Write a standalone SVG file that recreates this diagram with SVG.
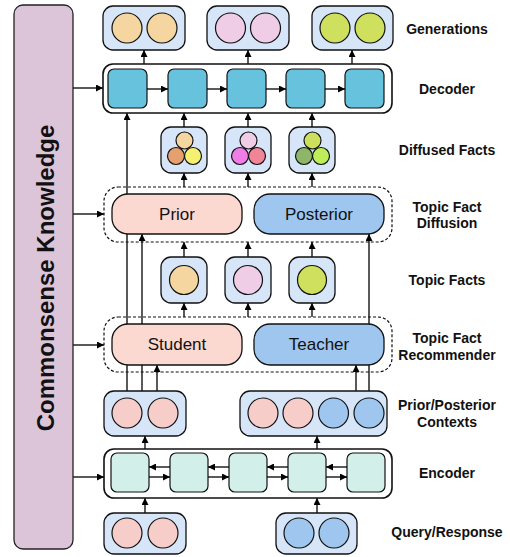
<svg xmlns="http://www.w3.org/2000/svg" width="510" height="557" viewBox="0 0 510 557">
  <defs>
    <marker id="arrow" viewBox="0 0 10 10" refX="10" refY="5" markerWidth="7" markerHeight="7" markerUnits="userSpaceOnUse" orient="auto">
      <path d="M0,0 L10,5 L0,10 z" fill="#000"/>
    </marker>
    <style>
      .label { font-family: "Liberation Sans", Arial, sans-serif; font-weight: bold; font-size: 14px; fill: #111; text-anchor: middle; }
      .inner { font-family: "Liberation Sans", Arial, sans-serif; font-size: 17px; fill: #111; text-anchor: middle; }
      .tok { fill: #d6e6f8; stroke: #111; stroke-width: 1.3; }
      .layer { fill: #fff; stroke: #111; stroke-width: 1.6; }
      .group { fill: none; stroke: #111; stroke-width: 1.2; stroke-dasharray: 3 2; }
      .pill { stroke: #111; stroke-width: 1.3; }
      .c { stroke: #111; stroke-width: 1.2; }
      .dec { fill: #67c3dd; stroke: #111; stroke-width: 1.2; }
      .enc { fill: #d3efea; stroke: #111; stroke-width: 1.2; }
      .edge { fill: none; stroke: #000; stroke-width: 1.3; marker-end: url(#arrow); }
      .orange { fill: #f5d5a0; }
      .pink { fill: #f0cde6; }
      .lime { fill: #cfe05e; }
      .salmon { fill: #f7cdca; }
      .blue { fill: #9fc6ee; }
    </style>
  </defs>

  <!-- connectors (drawn first so the long context lines pass behind the pills) -->
  <g id="connectors">
    <!-- knowledge injection -->
    <line class="edge" x1="73" y1="88" x2="103" y2="88"/>
    <line class="edge" x1="73" y1="214" x2="104" y2="214"/>
    <line class="edge" x1="73" y1="345" x2="104" y2="345"/>
    <line class="edge" x1="73" y1="477" x2="104" y2="477"/>
    <!-- decoder to generations -->
    <line class="edge" x1="144" y1="64" x2="144" y2="50"/>
    <line class="edge" x1="248" y1="64" x2="248" y2="50"/>
    <line class="edge" x1="352" y1="64" x2="352" y2="50"/>
    <!-- diffused facts to decoder -->
    <line class="edge" x1="184" y1="127" x2="184" y2="113"/>
    <line class="edge" x1="248" y1="127" x2="248" y2="113"/>
    <line class="edge" x1="312" y1="127" x2="312" y2="113"/>
    <!-- diffusion to diffused facts -->
    <line class="edge" x1="184" y1="187" x2="184" y2="173"/>
    <line class="edge" x1="248" y1="187" x2="248" y2="173"/>
    <line class="edge" x1="312" y1="187" x2="312" y2="173"/>
    <!-- topic facts to diffusion -->
    <line class="edge" x1="184" y1="257" x2="184" y2="242"/>
    <line class="edge" x1="248" y1="257" x2="248" y2="242"/>
    <line class="edge" x1="312" y1="257" x2="312" y2="242"/>
    <!-- recommender to topic facts -->
    <line class="edge" x1="184" y1="317" x2="184" y2="303"/>
    <line class="edge" x1="248" y1="317" x2="248" y2="303"/>
    <line class="edge" x1="312" y1="317" x2="312" y2="303"/>
    <!-- contexts upward -->
    <line class="edge" x1="127" y1="391" x2="127" y2="113"/>
    <line class="edge" x1="142" y1="391" x2="142" y2="234"/>
    <line class="edge" x1="157" y1="391" x2="157" y2="365"/>
    <line class="edge" x1="356" y1="391" x2="356" y2="365"/>
    <line class="edge" x1="369" y1="391" x2="369" y2="234"/>
    <!-- encoder to contexts -->
    <line class="edge" x1="145" y1="449" x2="145" y2="436"/>
    <line class="edge" x1="317" y1="449" x2="317" y2="436"/>
    <!-- query / response to encoder -->
    <line class="edge" x1="145" y1="513" x2="145" y2="498"/>
    <line class="edge" x1="317" y1="513" x2="317" y2="498"/>
  </g>

  <!-- knowledge column -->
  <g id="knowledge">
    <rect x="14" y="5" width="59" height="544" rx="9" fill="#dcc5d9" stroke="#222" stroke-width="1.3"/>
    <text transform="translate(54,278) rotate(-90)" font-family="Liberation Sans, Arial, sans-serif" font-weight="bold" font-size="24" text-anchor="middle" fill="#111">Commonsense Knowledge</text>
  </g>

  <!-- generated outputs -->
  <g id="generations">
    <rect class="tok" x="103" y="6" width="82" height="44" rx="10"/>
    <circle class="c orange" cx="127" cy="28" r="15"/>
    <circle class="c orange" cx="162" cy="28" r="15"/>
    <rect class="tok" x="207" y="6" width="82" height="44" rx="10"/>
    <circle class="c pink" cx="230.5" cy="28" r="15"/>
    <circle class="c pink" cx="265.5" cy="28" r="15"/>
    <rect class="tok" x="312" y="6" width="81" height="44" rx="10"/>
    <circle class="c lime" cx="335" cy="28" r="15"/>
    <circle class="c lime" cx="370" cy="28" r="15"/>
  </g>

  <!-- decoder -->
  <g id="decoder">
    <rect class="layer" x="103" y="64" width="289" height="49" rx="10"/>
    <rect class="dec" x="108" y="69" width="39" height="39" rx="6"/>
    <rect class="dec" x="168" y="69" width="39" height="39" rx="6"/>
    <rect class="dec" x="227" y="69" width="39" height="39" rx="6"/>
    <rect class="dec" x="286" y="69" width="39" height="39" rx="6"/>
    <rect class="dec" x="345" y="69" width="39" height="39" rx="6"/>
    <line class="edge" x1="147" y1="89" x2="168" y2="89"/>
    <line class="edge" x1="207" y1="89" x2="227" y2="89"/>
    <line class="edge" x1="266" y1="89" x2="286" y2="89"/>
    <line class="edge" x1="325" y1="89" x2="345" y2="89"/>
  </g>

  <!-- diffused facts -->
  <g id="diffused-facts">
    <rect class="tok" x="161" y="127" width="46" height="46" rx="10"/>
    <circle class="c" cx="184.5" cy="140.5" r="8.5" fill="#f5d5a0"/>
    <circle class="c" cx="176" cy="156" r="8.5" fill="#e6a070"/>
    <circle class="c" cx="193" cy="156" r="8.5" fill="#f5f070"/>
    <rect class="tok" x="225" y="127" width="46" height="46" rx="10"/>
    <circle class="c" cx="248.5" cy="140.5" r="8.5" fill="#f0cde6"/>
    <circle class="c" cx="240" cy="156" r="8.5" fill="#f07de6"/>
    <circle class="c" cx="257" cy="156" r="8.5" fill="#f08598"/>
    <rect class="tok" x="289" y="127" width="46" height="46" rx="10"/>
    <circle class="c" cx="312.5" cy="140.5" r="8.5" fill="#cde05e"/>
    <circle class="c" cx="304" cy="156" r="8.5" fill="#8db668"/>
    <circle class="c" cx="321" cy="156" r="8.5" fill="#bdee5a"/>
  </g>

  <!-- topic fact diffusion -->
  <g id="diffusion">
    <rect class="group" x="104" y="187" width="288" height="55" rx="14"/>
    <rect class="pill" x="112" y="194" width="130" height="40" rx="16" fill="#fbd9d1"/>
    <text class="inner" x="177" y="220">Prior</text>
    <rect class="pill" x="254" y="194" width="130" height="40" rx="16" fill="#9fc6ee"/>
    <text class="inner" x="319" y="220">Posterior</text>
  </g>

  <!-- topic facts -->
  <g id="topic-facts">
    <rect class="tok" x="161" y="257" width="46" height="46" rx="10"/>
    <circle class="c orange" cx="184" cy="280" r="14.5"/>
    <rect class="tok" x="225" y="257" width="46" height="46" rx="10"/>
    <circle class="c pink" cx="248" cy="280" r="14.5"/>
    <rect class="tok" x="289" y="257" width="46" height="46" rx="10"/>
    <circle class="c lime" cx="312" cy="280" r="14.5"/>
  </g>

  <!-- topic fact recommender -->
  <g id="recommender">
    <rect class="group" x="104" y="317" width="288" height="55" rx="14"/>
    <rect class="pill" x="112" y="324" width="130" height="41" rx="16" fill="#fbd9d1"/>
    <text class="inner" x="177" y="350">Student</text>
    <rect class="pill" x="254" y="324" width="130" height="41" rx="16" fill="#9fc6ee"/>
    <text class="inner" x="319" y="350">Teacher</text>
  </g>

  <!-- prior / posterior contexts -->
  <g id="contexts">
    <rect class="tok" x="104" y="391" width="82" height="45" rx="10"/>
    <circle class="c salmon" cx="127" cy="413" r="15"/>
    <circle class="c salmon" cx="163" cy="413" r="15"/>
    <rect class="tok" x="240" y="391" width="147" height="45" rx="10"/>
    <circle class="c salmon" cx="263" cy="413" r="15"/>
    <circle class="c salmon" cx="298" cy="413" r="15"/>
    <circle class="c blue" cx="333.5" cy="413" r="15"/>
    <circle class="c blue" cx="369" cy="413" r="15"/>
  </g>

  <!-- encoder -->
  <g id="encoder">
    <rect class="layer" x="104" y="449" width="288" height="49" rx="10"/>
    <rect class="enc" x="111" y="453" width="38" height="39" rx="6"/>
    <rect class="enc" x="170" y="453" width="38" height="39" rx="6"/>
    <rect class="enc" x="229" y="453" width="38" height="39" rx="6"/>
    <rect class="enc" x="288" y="453" width="38" height="39" rx="6"/>
    <rect class="enc" x="347" y="453" width="38" height="39" rx="6"/>
    <line class="edge" x1="170" y1="467" x2="149" y2="467"/>
    <line class="edge" x1="229" y1="467" x2="208" y2="467"/>
    <line class="edge" x1="288" y1="467" x2="267" y2="467"/>
    <line class="edge" x1="347" y1="467" x2="326" y2="467"/>
    <line class="edge" x1="149" y1="477" x2="170" y2="477"/>
    <line class="edge" x1="208" y1="477" x2="229" y2="477"/>
    <line class="edge" x1="267" y1="477" x2="288" y2="477"/>
    <line class="edge" x1="326" y1="477" x2="347" y2="477"/>
  </g>

  <!-- query / response -->
  <g id="query-response">
    <rect class="tok" x="104" y="513" width="82" height="41" rx="10"/>
    <circle class="c salmon" cx="127" cy="533" r="15"/>
    <circle class="c salmon" cx="163" cy="533" r="15"/>
    <rect class="tok" x="276" y="513" width="81" height="41" rx="10"/>
    <circle class="c blue" cx="299" cy="533" r="15"/>
    <circle class="c blue" cx="334" cy="533" r="15"/>
  </g>

  <!-- layer captions -->
  <g id="captions">
    <text class="label" x="447" y="34">Generations</text>
    <text class="label" x="447" y="94">Decoder</text>
    <text class="label" x="447" y="155">Diffused Facts</text>
    <text class="label" x="447" y="212">Topic Fact</text>
    <text class="label" x="447" y="228">Diffusion</text>
    <text class="label" x="447" y="285">Topic Facts</text>
    <text class="label" x="447" y="343">Topic Fact</text>
    <text class="label" x="447" y="360">Recommender</text>
    <text class="label" x="447" y="410">Prior/Posterior</text>
    <text class="label" x="447" y="427">Contexts</text>
    <text class="label" x="447" y="478">Encoder</text>
    <text class="label" x="447" y="537">Query/Response</text>
  </g>
</svg>
